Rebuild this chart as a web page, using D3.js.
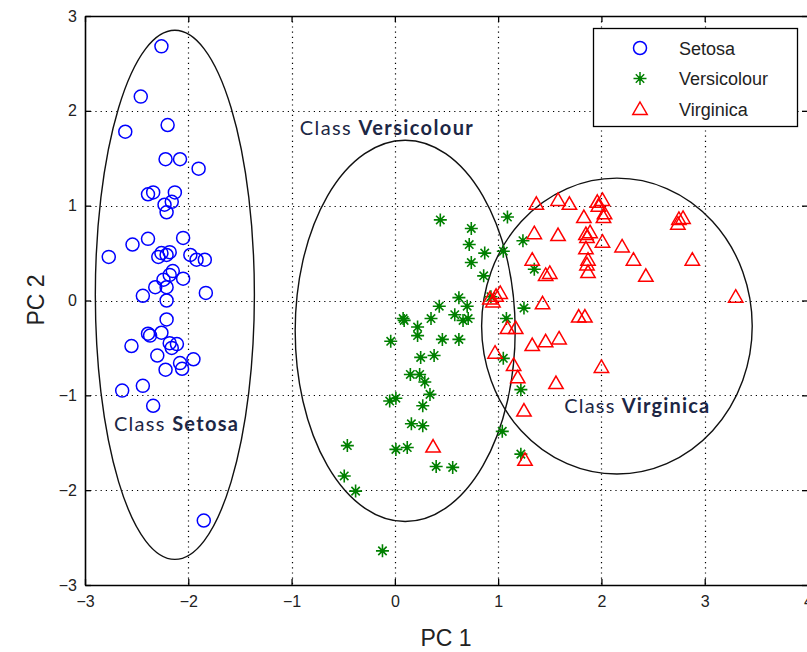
<!DOCTYPE html>
<html>
<head>
<meta charset="utf-8">
<script src="https://cdn.jsdelivr.net/npm/d3@7"></script>
<style>
  html, body { margin: 0; padding: 0; background: #fff; }
  svg { display: block; }
  .tick text { font-family: "Liberation Sans Narrow", "Arial Narrow", "Liberation Sans", sans-serif; font-size: 16px; fill: #222; }
</style>
</head>
<body>
<svg id="chart" width="807" height="652"></svg>
<script>
// Principal component scores, one pair of arrays per class
const setosaPC1 = [-2.26,-2.46,-2.61,-2.20,-2.22,-2.08,-1.90,-2.39,-2.34,-2.13,-2.16,-2.23,-2.21,
  -2.39,-2.54,-2.05,-2.77,-2.26,-2.18,-2.29,-2.21,-1.98,-1.92,-1.84,-2.15,-2.18,-2.05,-2.24,-2.32,
  -2.21,-2.44,-2.21,-1.83,-2.21,-2.39,-2.37,-2.26,-2.55,-2.18,-2.11,-2.16,-2.30,-1.95,-2.08,-2.06,
  -2.22,-2.44,-2.64,-2.34,-1.85];
const setosaPC2 = [2.68,2.15,1.78,1.85,1.49,1.49,1.39,1.12,1.14,1.14,1.04,1.01,0.93,
  0.65,0.59,0.66,0.46,0.50,0.51,0.46,0.48,0.48,0.43,0.43,0.31,0.27,0.23,0.22,0.14,
  0.14,0.05,0.00,0.08,-0.20,-0.35,-0.37,-0.34,-0.48,-0.45,-0.46,-0.50,-0.58,-0.62,-0.66,-0.72,
  -0.73,-0.90,-0.95,-1.11,-2.32];

const versicolourPC1 = [0.44,0.74,0.72,0.87,0.74,0.86,1.09,1.24,1.05,1.35,0.62,0.70,0.43,0.93,
  0.08,0.09,0.35,0.58,0.66,0.71,0.22,0.22,-0.04,0.46,0.62,1.25,1.08,0.25,0.38,0.15,0.24,1.05,
  0.29,0.34,-0.05,0.01,0.27,0.16,0.27,-0.46,0.01,0.12,0.40,0.56,-0.49,-0.38,-0.12,1.04,1.22,1.22];
const versicolourPC2 = [0.85,0.76,0.59,0.50,0.40,0.26,0.88,0.63,0.52,0.33,0.03,-0.06,-0.06,0.04,
  -0.19,-0.21,-0.19,-0.15,-0.21,-0.19,-0.28,-0.37,-0.43,-0.41,-0.41,-0.08,-0.19,-0.60,-0.58,-0.78,-0.78,-0.61,
  -0.86,-0.99,-1.06,-1.03,-1.11,-1.30,-1.32,-1.53,-1.57,-1.55,-1.75,-1.76,-1.85,-2.01,-2.64,-1.38,-0.94,-1.62];

const virginicaPC1 = [1.37,1.58,1.69,1.96,2.01,2.03,2.02,1.83,1.35,1.58,1.85,1.89,1.86,2.01,1.85,
  2.20,2.31,2.43,1.33,1.87,1.86,1.87,1.46,1.50,2.75,2.79,2.74,2.88,1.02,3.30,0.92,0.95,1.43,
  1.78,1.84,1.09,1.17,1.33,1.46,1.59,0.97,1.15,2.00,1.19,1.56,1.25,1.26,0.37,1.97,0.98];
const virginicaPC2 = [1.02,1.06,1.02,1.04,1.06,0.92,0.88,0.88,0.71,0.69,0.70,0.72,0.67,0.62,0.55,
  0.57,0.43,0.26,0.43,0.43,0.38,0.30,0.27,0.29,0.86,0.87,0.81,0.43,0.08,0.04,0.02,-0.01,-0.03,
  -0.17,-0.17,-0.29,-0.29,-0.47,-0.43,-0.40,-0.55,-0.68,-0.70,-0.81,-0.87,-1.16,-1.68,-1.54,1.00,0.05];

const classNames = ["Setosa", "Versicolour", "Virginica"];
const classColors = ["#0000ff", "#008000", "#ff0000"];

// Class ellipses: centre and semi-axes in PC units
const ellipseCX = [-2.13, 0.10, 2.15];
const ellipseCY = [0.06, -0.32, -0.27];
const ellipseRX = [0.77, 1.065, 1.31];
const ellipseRY = [2.79, 2.01, 1.56];

// Class annotations: anchor (left, baseline) in PC units
const annotationX = [-2.72, -0.92, 1.64];
const annotationY = [-1.38, 1.74, -1.19];

const xTicks = [-3, -2, -1, 0, 1, 2, 3, 4];
const yTicks = [-3, -2, -1, 0, 1, 2, 3];

const svg = d3.select("#chart");
const x = d3.scaleLinear().domain([-3, 4]).range([85, 808]);
const y = d3.scaleLinear().domain([-3, 3]).range([585, 16]);

// Dotted grid
const grid = svg.append("g").attr("stroke", "#000").attr("stroke-width", 1.2)
  .attr("stroke-dasharray", "1.2,4");
grid.selectAll(".gx").data(xTicks.slice(1, -1)).join("line")
  .attr("x1", d => Math.round(x(d)) + 0.5).attr("x2", d => Math.round(x(d)) + 0.5)
  .attr("y1", y(3)).attr("y2", y(-3));
grid.selectAll(".gy").data(yTicks.slice(1, -1)).join("line")
  .attr("y1", d => Math.round(y(d)) + 0.5).attr("y2", d => Math.round(y(d)) + 0.5)
  .attr("x1", x(-3)).attr("x2", x(4));

// Ellipses
svg.append("g").selectAll("ellipse").data(classNames).join("ellipse")
  .attr("cx", (d, i) => x(ellipseCX[i]))
  .attr("cy", (d, i) => y(ellipseCY[i]))
  .attr("rx", (d, i) => x(ellipseCX[i] + ellipseRX[i]) - x(ellipseCX[i]))
  .attr("ry", (d, i) => y(ellipseCY[i]) - y(ellipseCY[i] + ellipseRY[i]))
  .attr("fill", "none").attr("stroke", "#111").attr("stroke-width", 1.4);

// Markers
const circlePath = "M6.5,0A6.5,6.5,0,1,1,-6.5,0A6.5,6.5,0,1,1,6.5,0Z";
const starPath = "M-6.5,0H6.5M0,-6.5V6.5M-4.2,-4.2L4.2,4.2M-4.2,4.2L4.2,-4.2";
const trianglePath = "M0,-7L7.2,5.5H-7.2Z";

function drawClass(xs, ys, path, color, width) {
  svg.append("g").selectAll("path").data(xs).join("path")
    .attr("transform", (d, i) => `translate(${x(d)},${y(ys[i])})`)
    .attr("d", path).attr("fill", "none").attr("stroke", color).attr("stroke-width", width);
}
drawClass(setosaPC1, setosaPC2, circlePath, classColors[0], 1.5);
drawClass(versicolourPC1, versicolourPC2, starPath, classColors[1], 1.6);
svg.append("g").selectAll("circle").data(versicolourPC1).join("circle")
  .attr("cx", d => x(d)).attr("cy", (d, i) => y(versicolourPC2[i])).attr("r", 2.2)
  .attr("fill", classColors[1]);
drawClass(virginicaPC1, virginicaPC2, trianglePath, classColors[2], 1.5);

// Axes (ticks point inward)
const xAxis = svg.append("g").attr("transform", `translate(0,${y(-3)})`)
  .call(d3.axisBottom(x).tickValues(xTicks).tickSizeInner(-6).tickSizeOuter(0).tickPadding(11)
    .tickFormat(d3.format("d")));
const xTop = svg.append("g").attr("transform", `translate(0,${y(3)})`)
  .call(d3.axisTop(x).tickValues(xTicks).tickSizeInner(-6).tickSizeOuter(0).tickFormat(""));
const yAxis = svg.append("g").attr("transform", `translate(${x(-3)},0)`)
  .call(d3.axisLeft(y).tickValues(yTicks).tickSizeInner(-6).tickSizeOuter(0).tickPadding(8)
    .tickFormat(d3.format("d")));
const yRight = svg.append("g").attr("transform", `translate(${x(4)},0)`)
  .call(d3.axisRight(y).tickValues(yTicks).tickSizeInner(-6).tickSizeOuter(0).tickFormat(""));
[xAxis, xTop, yAxis, yRight].forEach(g => {
  g.selectAll("path, line").attr("stroke", "#000").attr("stroke-width", 1.3);
  g.select(".domain").attr("stroke-width", 1.6);
});

// Axis titles
const titleFont = '"Liberation Sans Narrow", "Arial Narrow", "Liberation Sans", sans-serif';
svg.append("text").attr("x", 446).attr("y", 646).attr("text-anchor", "middle")
  .attr("font-family", titleFont).attr("font-size", 23).attr("fill", "#222").text("PC 1");
svg.append("text").attr("transform", "translate(44,300) rotate(-90)").attr("text-anchor", "middle")
  .attr("font-family", titleFont).attr("font-size", 23).attr("fill", "#222").text("PC 2");

// Class annotations
const annotationWidths = [124, 173, 145];
const ann = svg.append("g").attr("font-family", "Lato, 'Open Sans', sans-serif")
  .attr("font-size", 20).attr("fill", "#1d2745");
classNames.forEach((name, i) => {
  const t = ann.append("text").attr("x", x(annotationX[i])).attr("y", y(annotationY[i]))
    .attr("textLength", annotationWidths[i]).attr("lengthAdjust", "spacing");
  t.append("tspan").text("Class ");
  t.append("tspan").attr("font-weight", "bold").text(name);
});

// Legend
const legend = svg.append("g");
legend.append("rect").attr("x", 593.5).attr("y", 28.5).attr("width", 204).attr("height", 98)
  .attr("fill", "#fff").attr("stroke", "#000").attr("stroke-width", 1.3);
const legendMarks = [circlePath, starPath, trianglePath];
classNames.forEach((name, i) => {
  const ry = 48 + i * 30.5;
  legend.append("path").attr("transform", `translate(640,${ry})`).attr("d", legendMarks[i])
    .attr("fill", "none").attr("stroke", classColors[i]).attr("stroke-width", 1.5);
  if (i === 1) legend.append("circle").attr("cx", 640).attr("cy", ry).attr("r", 2.2).attr("fill", classColors[i]);
  legend.append("text").attr("x", 679).attr("y", ry + 6.5)
    .attr("font-family", titleFont).attr("font-size", 18).attr("fill", "#222").text(name);
});
</script>
</body>
</html>
